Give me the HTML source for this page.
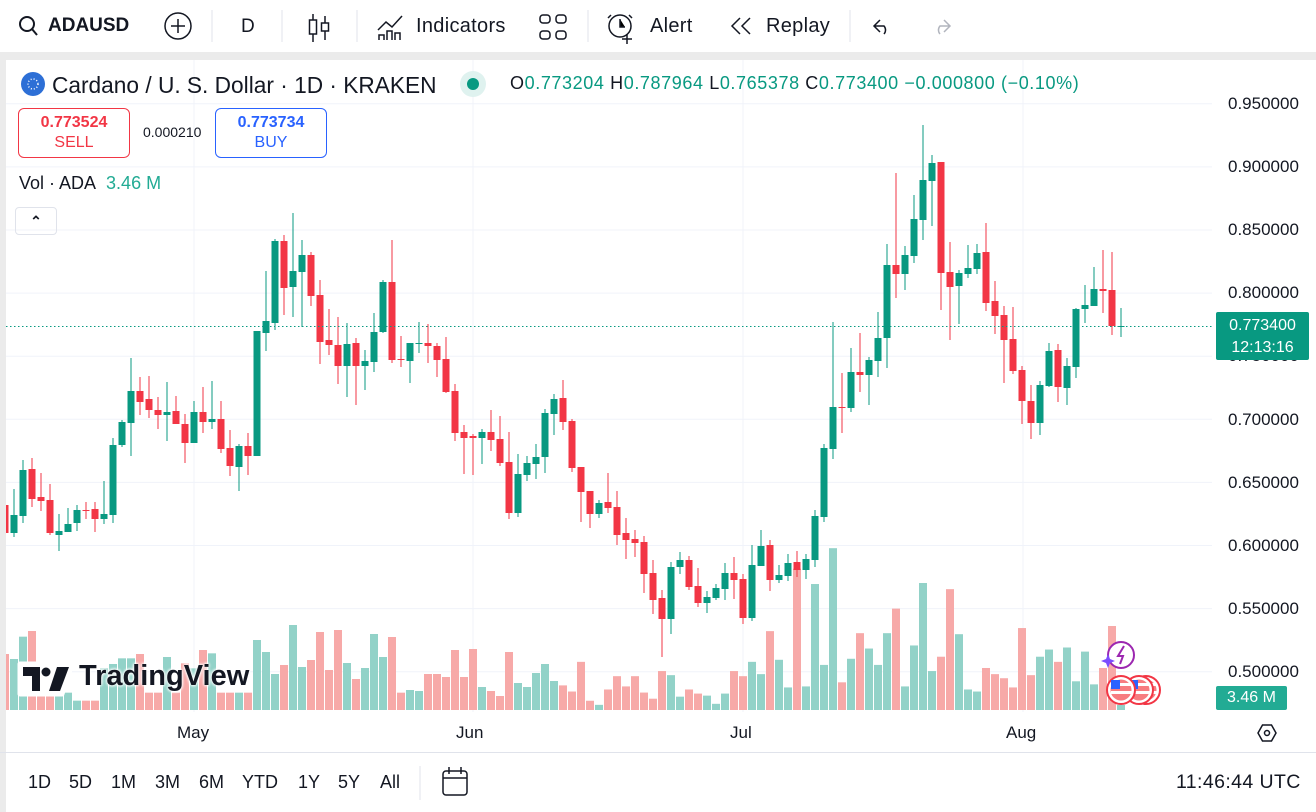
<!DOCTYPE html>
<html><head><meta charset="utf-8"><style>
body{margin:0;width:1316px;height:812px;overflow:hidden;background:#fff;font-family:"Liberation Sans",sans-serif;color:#131722;position:relative}
.a{position:absolute;white-space:nowrap}
</style></head><body>
<svg id="s" width="1316" height="812" style="position:absolute;left:0;top:0"></svg>
<div class="a" style="left:0;top:52px;width:1316px;height:8px;background:#ebebeb"></div>
<div class="a" style="left:0;top:60px;width:6px;height:752px;background:#ebebeb"></div>
<div class="a" style="left:48px;top:15px;font-size:19px;font-weight:bold">ADAUSD</div>
<div class="a" style="left:241px;top:16px;font-size:19px">D</div>
<div class="a" style="left:416px;top:15px;font-size:20px;letter-spacing:0.3px">Indicators</div>
<div class="a" style="left:650px;top:15px;font-size:20px;letter-spacing:0.3px">Alert</div>
<div class="a" style="left:766px;top:15px;font-size:20px;letter-spacing:0.3px">Replay</div>
<div class="a" style="left:52px;top:72px;font-size:22.7px">Cardano / U. S. Dollar · 1D · KRAKEN</div>
<div class="a" style="left:510px;top:73px;font-size:18px;letter-spacing:0.6px">O<span style="color:#089981">0.773204</span> H<span style="color:#089981">0.787964</span> L<span style="color:#089981">0.765378</span> C<span style="color:#089981">0.773400</span> <span style="color:#089981">−0.000800 (−0.10%)</span></div>
<div class="a" style="left:18px;top:108px;width:112px;height:50px;border:1px solid #f23645;border-radius:6px;text-align:center;color:#f23645;font-size:16px;line-height:20px;padding-top:4px;box-sizing:border-box"><b>0.773524</b><br>SELL</div>
<div class="a" style="left:143px;top:124px;font-size:14px">0.000210</div>
<div class="a" style="left:215px;top:108px;width:112px;height:50px;border:1px solid #2962ff;border-radius:6px;text-align:center;color:#2962ff;font-size:16px;line-height:20px;padding-top:4px;box-sizing:border-box"><b>0.773734</b><br>BUY</div>
<div class="a" style="left:19px;top:173px;font-size:18px">Vol · ADA <span style="color:#22ab94;margin-left:6px">3.46 M</span></div>
<div class="a" style="left:15px;top:207px;width:42px;height:28px;border:1px solid #e0e3eb;border-radius:4px;box-sizing:border-box;text-align:center;font-size:14px;line-height:26px;font-weight:bold">⌃</div>
<div class="a" style="left:79px;top:660px;font-size:29px;font-weight:bold;color:#131722;text-shadow:0 0 3px #fff,0 0 3px #fff,0 0 3px #fff">TradingView</div>
<div id="pl"></div>
<div class="a" style="left:1216px;top:312px;width:93px;height:48px;background:#089981;border-radius:2px;color:#fff;font-size:16px;text-align:center;line-height:22px;padding-top:3px;box-sizing:border-box">0.773400<br>12:13:16</div>
<div class="a" style="left:1216px;top:686px;width:71px;height:24px;background:#22ab94;border-radius:2px;color:#fff;font-size:16px;text-align:center;line-height:24px">3.46 M</div>
<div class="a" style="left:177px;top:723px;font-size:17px">May</div>
<div class="a" style="left:456px;top:723px;font-size:17px">Jun</div>
<div class="a" style="left:730px;top:723px;font-size:17px">Jul</div>
<div class="a" style="left:1006px;top:723px;font-size:17px">Aug</div>
<div class="a" style="left:0;top:752px;width:1316px;height:1px;background:#e0e3eb"></div>
<div class="a" style="left:28px;top:772px;font-size:18px">1D</div>
<div class="a" style="left:69px;top:772px;font-size:18px">5D</div>
<div class="a" style="left:111px;top:772px;font-size:18px">1M</div>
<div class="a" style="left:155px;top:772px;font-size:18px">3M</div>
<div class="a" style="left:199px;top:772px;font-size:18px">6M</div>
<div class="a" style="left:242px;top:772px;font-size:18px">YTD</div>
<div class="a" style="left:298px;top:772px;font-size:18px">1Y</div>
<div class="a" style="left:338px;top:772px;font-size:18px">5Y</div>
<div class="a" style="left:380px;top:772px;font-size:18px">All</div>
<div class="a" style="left:1176px;top:771px;font-size:19.5px;letter-spacing:0.4px">11:46:44 UTC</div>
<script>
var C=[[489,505,533,537,'r'],[489,515,533,537,'g'],[460,470,516,523,'g'],[458,469,499,507,'r'],[473,497,501,511,'r'],[484,500,533,535,'r'],[514,531,535,551,'g'],[508,524,532,532,'g'],[505,510,523,531,'g'],[502,510,511,519,'r'],[502,509,519,532,'r'],[481,514,519,524,'g'],[438,445,515,523,'g'],[420,422,445,447,'g'],[358,391,423,456,'g'],[377,391,402,415,'r'],[376,399,410,418,'r'],[397,410,415,429,'r'],[382,412,415,441,'g'],[396,411,424,424,'r'],[414,424,443,463,'r'],[401,412,443,443,'g'],[387,412,422,433,'r'],[381,419,422,429,'g'],[401,419,449,453,'r'],[430,448,466,476,'r'],[444,446,467,491,'g'],[433,446,456,475,'r'],[331,331,456,456,'g'],[271,321,333,351,'g'],[239,241,323,330,'g'],[235,241,288,315,'r'],[213,271,287,317,'g'],[240,255,272,327,'g'],[252,255,296,306,'r'],[280,295,342,364,'r'],[309,340,345,355,'r'],[317,345,366,384,'r'],[323,344,366,397,'g'],[338,343,366,405,'r'],[350,361,366,390,'g'],[313,332,362,372,'g'],[280,282,332,333,'g'],[240,282,360,363,'r'],[336,359,360,367,'r'],[343,343,361,383,'g'],[322,343,344,353,'g'],[324,343,346,363,'r'],[343,346,360,377,'r'],[337,359,392,393,'r'],[384,391,433,441,'r'],[425,432,438,474,'r'],[434,436,438,475,'r'],[429,432,438,464,'g'],[410,432,440,451,'r'],[416,439,463,466,'r'],[432,462,513,519,'r'],[454,474,513,517,'g'],[456,463,475,481,'g'],[444,457,464,479,'g'],[409,413,457,473,'g'],[394,399,414,435,'g'],[380,398,422,430,'r'],[419,421,468,472,'r'],[467,467,492,522,'r'],[491,491,514,528,'r'],[500,503,514,518,'g'],[473,502,508,513,'r'],[491,507,535,545,'r'],[518,533,540,559,'r'],[530,539,543,557,'r'],[536,542,574,593,'r'],[560,573,600,614,'r'],[590,598,619,657,'r'],[562,567,619,634,'g'],[552,560,567,574,'g'],[556,560,587,590,'r'],[568,586,603,607,'r'],[591,597,603,613,'g'],[584,588,598,600,'g'],[563,573,589,600,'g'],[557,573,580,599,'r'],[574,579,618,624,'r'],[545,565,618,621,'g'],[530,546,566,566,'g'],[540,545,580,591,'r'],[565,575,580,583,'g'],[554,563,576,581,'g'],[551,562,570,577,'r'],[554,559,570,579,'g'],[510,516,560,567,'g'],[444,448,517,522,'g'],[322,407,449,459,'g'],[373,407,408,433,'r'],[348,372,408,412,'g'],[333,372,375,392,'r'],[357,360,375,405,'g'],[312,338,361,377,'g'],[244,265,338,368,'g'],[173,265,274,298,'r'],[246,255,274,290,'g'],[195,219,256,263,'g'],[125,180,220,240,'g'],[155,163,181,226,'g'],[162,162,273,310,'r'],[242,272,287,340,'r'],[270,273,286,324,'g'],[245,268,274,278,'g'],[244,253,269,274,'g'],[223,252,303,311,'r'],[281,301,316,334,'r'],[306,315,340,383,'r'],[307,339,371,374,'r'],[366,370,401,424,'r'],[385,401,423,439,'r'],[381,385,423,435,'g'],[343,351,386,387,'g'],[344,350,387,402,'r'],[358,366,388,405,'g'],[308,309,367,378,'g'],[285,305,309,323,'g'],[267,289,306,306,'g'],[250,289,291,313,'r'],[252,290,326,335,'r'],[308,326,327,337,'g']];
var V6=[132,147,80,63,248,248,248,248,272,272,272,175,162,145,145,132,248,248,141,248,160,175,120,130,248,248,248,248,90,126,192,165,45,171,150,66,180,60,159,207,174,72,141,81,248,240,243,192,192,201,120,201,117,231,243,258,126,219,231,189,162,213];
var V7=[426,444,357,471,483,438,399,429,399,447,465,384,396,459,438,450,456,480,450,384,399,357,393,267,351,432,84,429,129,366,24,417,348,273,318,366,273,201,429,309,126,384,342,144,276,438,444,375,393,405,432,258,396,342,321,357,315,414,327,423,375,252];
var h='';
for(var k=0;k<10;k++){var y=103.8+63.1*k;h+='<line x1="6" x2="1212" y1="'+y+'" y2="'+y+'" stroke="#f0f3fa" stroke-width="1"/>';}
[194,473,743,1023].forEach(function(x){h+='<line x1="'+x+'" x2="'+x+'" y1="60" y2="712" stroke="#f0f3fa"/>';});
for(var i=0;i<125;i++){var t;if(i<62)t=610+V6[i]/3;else if(i<124)t=540+V7[i-62]/2.93;else t=705;
var x=5+9*i;var c=C[i][4]=='g'?'#92d2c8':'#f7a9a8';var x0=Math.max(6,x-4);h+='<rect x="'+x0+'" y="'+t+'" width="'+(x+4-x0)+'" height="'+(710-t)+'" fill="'+c+'"/>';}
for(var i=0;i<125;i++){var d=C[i],x=5+9*i,c=d[4]=='g'?'#089981':'#f23645';
h+='<line x1="'+x+'" x2="'+x+'" y1="'+d[0]+'" y2="'+d[3]+'" stroke="'+c+'" stroke-width="1"/>';
var x0=Math.max(6,x-3.5);h+='<rect x="'+x0+'" y="'+d[1]+'" width="'+(x+3.5-x0)+'" height="'+Math.max(1,d[2]-d[1])+'" fill="'+c+'"/>';}
h+='<line x1="6" x2="1212" y1="326.5" y2="326.5" stroke="#089981" stroke-dasharray="1.5 2.5"/>';
// TV logo
h+='<path d="M20 664h34v30h-34z M56 664h16l-10 30h-12z" fill="#fff" stroke="#fff" stroke-width="5" stroke-linejoin="round"/>';
h+='<path d="M23 667h17v24h-8v-15h-9z" fill="#131722"/><circle cx="46" cy="672" r="4.5" fill="#131722"/><path d="M57 667h12l-9 24h-11z" fill="#131722"/>';
h+='<circle cx="33" cy="84" r="12" fill="#2d6fd6"/><circle cx="33" cy="84" r="5" fill="none" stroke="#fff" stroke-width="1.5" stroke-dasharray="1 2"/>';
h+='<circle cx="473" cy="84" r="13" fill="#dff2ef"/><circle cx="473" cy="84" r="6" fill="#089981"/>';
h+='<circle cx="27" cy="24" r="7" fill="none" stroke="#131722" stroke-width="2"/><line x1="32" y1="29" x2="37" y2="35" stroke="#131722" stroke-width="2"/>';
h+='<circle cx="178" cy="26" r="13" fill="none" stroke="#131722" stroke-width="1.5"/><path d="M178 19v14M171 26h14" stroke="#131722" stroke-width="1.5"/>';
h+='<path d="M212 10v32M282 10v32M357 10v32M588 10v32M850 10v32" stroke="#e0e3eb"/>';
h+='<path d="M313 14v28M325 16v24" stroke="#131722" stroke-width="1.5"/><rect x="309.5" y="20" width="7" height="14" fill="#fff" stroke="#131722" stroke-width="1.5"/><rect x="321.5" y="23" width="7" height="8" fill="#fff" stroke="#131722" stroke-width="1.5"/>';
h+='<path d="M378 30l8-8 6 5 10-11" fill="none" stroke="#131722" stroke-width="1.5"/><path d="M379 40v-5h5v5M387 40v-9h5v9M395 40v-7h5v7" fill="none" stroke="#131722" stroke-width="1.5"/>';
[[540,15],[556,15],[540,31],[556,31]].forEach(function(p){h+='<rect x="'+p[0]+'" y="'+p[1]+'" width="10" height="8" rx="3" fill="none" stroke="#131722" stroke-width="1.5"/>';});
h+='<circle cx="620" cy="26" r="11" fill="none" stroke="#131722" stroke-width="1.5"/><path d="M620 19v8h5M627 34v10M622 39h10M611 15l-3 3M629 15l3 3" stroke="#131722" stroke-width="1.5"/>';
h+='<path d="M740 18l-8 8 8 8M750 18l-8 8 8 8" fill="none" stroke="#131722" stroke-width="1.5"/>';
h+='<path d="M880 20l-6 6 6 6M874 26h10a6 6 0 0 1 0 8" fill="none" stroke="#131722" stroke-width="1.5"/>';
h+='<path d="M944 20l6 6-6 6M950 26h-10a6 6 0 0 0 0 8" fill="none" stroke="#b2b5be" stroke-width="1.5"/>';
h+='<path d="M420 766v34" stroke="#e0e3eb"/><rect x="443" y="771" width="24" height="24" rx="3" fill="none" stroke="#131722" stroke-width="1.5"/><path d="M443 778h24M449 767v7M461 767v7" stroke="#131722" stroke-width="1.5"/>';
h+='<path d="M1258 733l4.5-8h9l4.5 8-4.5 8h-9z" fill="none" stroke="#131722" stroke-width="1.5"/><circle cx="1267" cy="733" r="2.5" fill="none" stroke="#131722" stroke-width="1.5"/>';
h+='<circle cx="1121" cy="655" r="13" fill="#fff" stroke="#9c27b0" stroke-width="2"/><path d="M1124 646l-6 10h5l-3 8" fill="none" stroke="#9c27b0" stroke-width="2"/><path d="M1106 659l2-5 2 5 5 2-5 2-2 5-2-5-5-2z" fill="#7b4dff"/>';
[1146,1139,1121].forEach(function(x){h+='<circle cx="'+x+'" cy="690" r="14" fill="#fff" stroke="#f23645" stroke-width="2"/><circle cx="'+x+'" cy="690" r="10.5" fill="#f77c80"/><rect x="'+(x-10)+'" y="683" width="20" height="3" fill="#fff"/><rect x="'+(x-10)+'" y="691" width="21" height="3" fill="#fff"/><rect x="'+(x-10)+'" y="680" width="9" height="9" fill="#2962ff"/>';});
document.getElementById('s').innerHTML=h;
var p='';for(var k=0;k<10;k++){var v=(0.95-0.05*k).toFixed(6);p+='<div class="a" style="left:1228px;top:'+(94+63.1*k)+'px;font-size:17px">'+v+'</div>';}
document.getElementById('pl').innerHTML=p;
</script>
</body></html>
